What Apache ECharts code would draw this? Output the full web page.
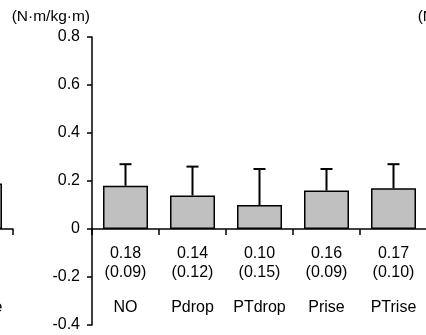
<!DOCTYPE html>
<html><head><meta charset="utf-8">
<script src="https://cdn.jsdelivr.net/npm/echarts@6/dist/echarts.min.js"></script>
<style>html,body{margin:0;padding:0;background:#fff}#c{width:426px;height:335px}</style>
</head><body><div id="c"></div>
<script>
// ---- data ----
const categories = ['NO', 'Pdrop', 'PTdrop', 'Prise', 'PTrise'];
const means = [0.18, 0.14, 0.10, 0.16, 0.17];
const sds = [0.09, 0.12, 0.15, 0.09, 0.10];
// neighbouring (cropped) panel on the left: only its last bar is visible
const prevMeans = [null, null, null, null, 0.19];
const yMin = -0.4, yZero = 0, yMax = 0.8, yStep = 0.2;
const unitLabel = '(N·m/kg·m)';

// ---- styles ----
const FONT = 'Liberation Sans, Arial, sans-serif';
const FS = 16;
const black = '#000';
const barFill = '#c0c0c0';
const PX_PER_UNIT = 240;
const TOP = 37, PANEL_W = 335;
const upperH = (yMax - yZero) * PX_PER_UNIT;
const lowerH = (yZero - yMin) * PX_PER_UNIT;

function yAxisCfg(gi, min, max, withName, hideMax) {
  return {
    gridIndex: gi, type: 'value', min: min, max: max, interval: yStep,
    name: withName ? unitLabel : '', nameLocation: 'end', nameGap: 20,
    nameTextStyle: { color: black, fontFamily: FONT, fontSize: 15.5, align: 'right', verticalAlign: 'middle', padding: [0, 2, 0, 0] },
    axisLine: { show: true, onZero: false, lineStyle: { color: black, width: 1.5 } },
    axisTick: { show: true, length: 5, lineStyle: { color: black, width: 1.5 } },
    splitLine: { show: false },
    axisLabel: { color: black, fontFamily: FONT, fontSize: FS, margin: 12, showMaxLabel: !hideMax,
      formatter: v => String(+(+v).toFixed(1)) }
  };
}
function xAxisCfg(gi, formatter, visible) {
  return {
    gridIndex: gi, type: 'category', data: categories, boundaryGap: true, show: visible,
    position: 'bottom',
    axisLine: { show: true, onZero: false, lineStyle: { color: black, width: 1.5 } },
    axisTick: { show: true, length: 6, inside: false, lineStyle: { color: black, width: 1.5 } },
    axisLabel: { interval: 0, margin: 15, formatter: formatter, hideOverlap: false,
      color: black, fontFamily: FONT,
      rich: {
        v: { fontSize: FS, lineHeight: 19, color: black, fontFamily: FONT },
        n: { fontSize: FS, lineHeight: 52, color: black, fontFamily: FONT }
      } }
  };
}

const mainFormatter = (val, idx) =>
  '{v|' + means[idx].toFixed(2) + '}\n{v|(' + sds[idx].toFixed(2) + ')}\n{n|' + val + '}';
const nameOnlyFormatter = (val) => '{v| }\n{v| }\n{n|' + val + '}';

function grid(left, top, h) {
  return { left: left, top: top, width: PANEL_W, height: h, containLabel: false, outerBoundsMode: 'none' };
}
const chart = echarts.init(document.getElementById('c'), null, { renderer: 'canvas' });
chart.setOption({
  animation: false,
  backgroundColor: '#fff',
  grid: [
    grid(-322, TOP, upperH),          // 0: previous panel (cropped), upper part
    grid(92, TOP, upperH),            // 1: main panel, positive part
    grid(92, TOP + upperH, lowerH),   // 2: main panel, negative part
    grid(498, TOP, upperH)            // 3: next panel (cropped), upper part
  ],
  xAxis: [
    xAxisCfg(0, nameOnlyFormatter, true),
    xAxisCfg(1, mainFormatter, true),
    xAxisCfg(2, nameOnlyFormatter, false),
    xAxisCfg(3, nameOnlyFormatter, true)
  ],
  yAxis: [
    yAxisCfg(0, yZero, yMax, true, false),
    yAxisCfg(1, yZero, yMax, true, false),
    yAxisCfg(2, yMin, yZero, false, true),
    yAxisCfg(3, yZero, yMax, true, false)
  ],
  series: [
    { type: 'bar', xAxisIndex: 0, yAxisIndex: 0, data: prevMeans, barWidth: 45,
      itemStyle: { color: barFill, borderColor: black, borderWidth: 1.5 } },
    { type: 'bar', xAxisIndex: 1, yAxisIndex: 1, data: means, barWidth: 45,
      itemStyle: { color: barFill, borderColor: black, borderWidth: 1.5 } },
    { type: 'custom', xAxisIndex: 1, yAxisIndex: 1, z: 3,
      data: categories.map((c, i) => [i, means[i], sds[i]]),
      renderItem: (params, api) => {
        const x = api.value(0), m = api.value(1), s = api.value(2);
        const b = api.coord([x, m]);
        const t = api.coord([x, m + s]);
        const st = { stroke: black, lineWidth: 2 };
        return { type: 'group', children: [
          { type: 'line', shape: { x1: b[0], y1: b[1], x2: t[0], y2: t[1] }, style: st },
          { type: 'line', shape: { x1: t[0] - 6, y1: t[1], x2: t[0] + 6, y2: t[1] }, style: st }
        ] };
      } }
  ]
});
</script>
</body></html>
